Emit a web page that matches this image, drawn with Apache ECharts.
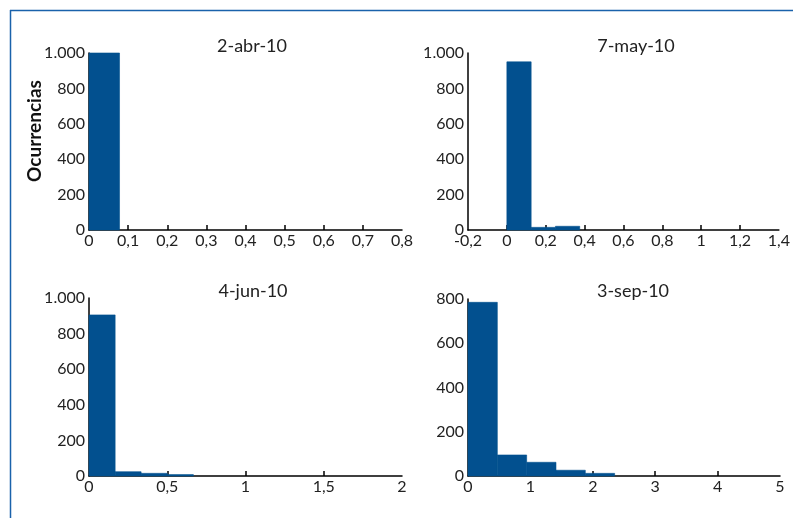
<!DOCTYPE html>
<html>
<head>
<meta charset="utf-8">
<title>Histogramas</title>
<script src="https://cdn.jsdelivr.net/npm/echarts@6/dist/echarts.min.js"></script>
<style>
  html, body { margin: 0; padding: 0; background: #fff; }
  #chart { width: 793px; height: 518px; }
</style>
</head>
<body>
<div id="chart"></div>
<script>
// Panel titles (sampling dates)
const panelTitles = ['2-abr-10', '7-may-10', '4-jun-10', '3-sep-10'];

// Histogram bin edges and counts per date
const aprEdges = [0, 0.078];
const aprCounts = [1000];

const mayEdges = [0, 0.125, 0.25, 0.375];
const mayCounts = [950, 15, 21];

const junEdges = [0, 0.167, 0.333, 0.5, 0.667];
const junCounts = [905, 24, 15, 8];

const sepEdges = [0, 0.47, 0.94, 1.41, 1.88, 2.35];
const sepCounts = [785, 95, 62, 26, 12];

// Axis ranges
const xMins = [0, -0.2, 0, 0];
const xMaxs = [0.8, 1.4, 2, 5];
const xSteps = [0.1, 0.2, 0.5, 1];
const yMaxs = [1000, 1000, 1000, 800];
const yStep = 200;

const yTitle = 'Ocurrencias';

const FONT = 'Lato, "Open Sans", sans-serif';
const BAR = '#02508f';
const FRAME = '#1a62ab';

const edgesList = [aprEdges, mayEdges, junEdges, sepEdges];
const countsList = [aprCounts, mayCounts, junCounts, sepCounts];

const grids = [
  { left: 89,  top: 53,  width: 313, height: 177 },
  { left: 468, top: 53,  width: 312, height: 177 },
  { left: 89,  top: 298, width: 313, height: 178 },
  { left: 468, top: 299, width: 312, height: 177 }
];

const titleCenters = [[247, 32], [631, 32], [248, 277], [628, 277]];

function fmtX(v) {
  return String(+v.toFixed(2)).replace('.', ',');
}
function fmtY(v) {
  return v >= 1000 ? String(v).replace(/(\d)(\d{3})$/, '$1.$2') : String(v);
}
function innerTicks(min, max, step) {
  const out = [];
  const n = Math.round((max - min) / step);
  for (let i = 1; i < n; i++) out.push(+(min + i * step).toFixed(4));
  return out;
}

const option = {
  animation: false,
  textStyle: { fontFamily: FONT },
  title: panelTitles.map((t, i) => ({
    text: t,
    left: titleCenters[i][0],
    top: titleCenters[i][1],
    textAlign: 'center',
    textStyle: { fontFamily: FONT, fontSize: 18, fontWeight: 'normal', color: '#222' }
  })),
  grid: grids,
  xAxis: grids.map((g, i) => ({
    type: 'value',
    gridIndex: i,
    min: xMins[i],
    max: xMaxs[i],
    interval: xSteps[i],
    axisLine: { show: true, onZero: false, lineStyle: { color: '#000', width: 1.5 } },
    axisTick: {
      show: true, inside: true, length: 5,
      customValues: innerTicks(xMins[i], xMaxs[i], xSteps[i]),
      lineStyle: { color: '#000', width: 1.5 }
    },
    splitLine: { show: false },
    axisLabel: {
      color: '#222', fontFamily: FONT, fontSize: 16, margin: 3,
      formatter: fmtX, showMinLabel: true, showMaxLabel: true
    }
  })),
  yAxis: grids.map((g, i) => ({
    type: 'value',
    gridIndex: i,
    min: 0,
    max: yMaxs[i],
    interval: yStep,
    axisLine: { show: true, onZero: false, lineStyle: { color: '#000', width: 1.5 } },
    axisTick: { show: false },
    splitLine: { show: false },
    axisLabel: {
      color: '#222', fontFamily: FONT, fontSize: 16, margin: 4,
      formatter: fmtY
    }
  })),
  series: edgesList.map((edges, i) => ({
    type: 'custom',
    xAxisIndex: i,
    yAxisIndex: i,
    data: countsList[i].map((c, k) => [edges[k], edges[k + 1], c]),
    encode: { x: [0, 1], y: 2 },
    renderItem: function (params, api) {
      const p0 = api.coord([api.value(0), api.value(2)]);
      const p1 = api.coord([api.value(1), 0]);
      return {
        type: 'rect',
        shape: { x: p0[0], y: p0[1], width: p1[0] - p0[0], height: p1[1] - p0[1] },
        style: { fill: BAR, stroke: BAR, lineWidth: 0.6 }
      };
    }
  })),
  graphic: [
    { type: 'line', shape: { x1: 10, y1: 10.5, x2: 793, y2: 10.5 }, style: { stroke: FRAME, lineWidth: 1.5 } },
    { type: 'line', shape: { x1: 10.5, y1: 10, x2: 10.5, y2: 518 }, style: { stroke: FRAME, lineWidth: 1.5 } },
    {
      type: 'text',
      x: 35, y: 131,
      rotation: Math.PI / 2,
      style: {
        text: yTitle, fontFamily: FONT, fontSize: 19, fontWeight: 'bold',
        fill: '#111', align: 'center', verticalAlign: 'middle'
      }
    }
  ]
};

echarts.init(document.getElementById('chart'), null, { renderer: 'canvas' }).setOption(option);
</script>
</body>
</html>
